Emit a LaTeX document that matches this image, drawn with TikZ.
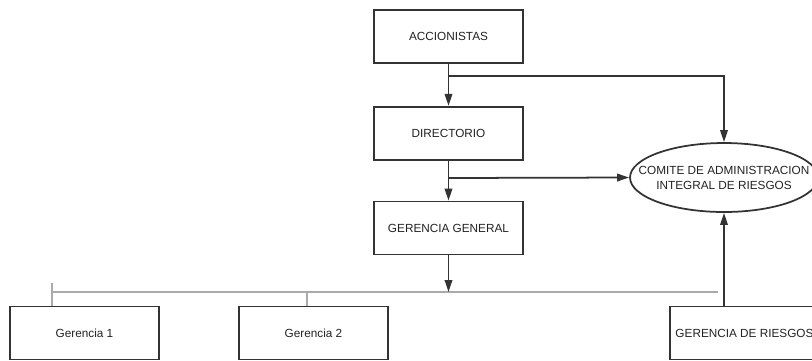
\documentclass[tikz,border=0pt]{standalone}
\usepackage{fontspec}
\setmainfont{Liberation Sans}
\usetikzlibrary{arrows.meta,positioning,shapes.geometric}
\definecolor{linegray}{HTML}{333333}
\definecolor{busgray}{HTML}{AAAAAA}
\definecolor{textgray}{HTML}{222222}

\begin{document}
\begin{tikzpicture}[
  x=0.02cm, y=-0.02cm,
  box/.style={draw=linegray, line width=1pt, minimum width=2.98cm, minimum height=1.06cm, inner sep=0pt, font=\fontsize{6.7}{8.5}\selectfont, text=textgray},
  arrow/.style={-{Triangle[length=2.4mm, width=1.5mm]}, line width=1pt, linegray},
  bus/.style={busgray, line width=1pt}
]
  \useasboundingbox (0,0) rectangle (812,360);

  % Main chain
  \node[box] (acc) at (448.5,36.5) {ACCIONISTAS};
  \node[box, below=0.84cm of acc] (dir) {DIRECTORIO};
  \node[box, below=0.8cm of dir] (gg) {GERENCIA GENERAL};

  % Committee
  \node[draw=linegray, ellipse, line width=1pt, minimum width=3.76cm, minimum height=1.38cm, inner sep=0pt] (comite) at (724,177.5) {};
  \node[font=\fontsize{6.7}{8.5}\selectfont, text=textgray, align=center] (comitetxt) at (comite.center) {COMITE DE ADMINISTRACION\\INTEGRAL DE RIESGOS};

  % Bottom row
  \node[box] (g1) at (84.5,333) {Gerencia 1};
  \node[box] (g2) at (313.5,333) {Gerencia 2};
  \node[box] (riesgos) at (744.5,333) {GERENCIA DE RIESGOS};

  % Connectors
  \coordinate (accbr) at (448.5,76);
  \coordinate (dirbr) at (448.5,178);
  \draw[arrow] (acc) -- (dir);
  \draw[arrow] (accbr) -| (comite.north);
  \draw[arrow] (dir) -- (gg);
  \draw[arrow] (dirbr) -- (comite.west);
  \draw[arrow] (riesgos.north -| comite.south) -- (comite.south);

  % Bus
  \coordinate (busL) at (52,292);
  \coordinate (busR) at (718,292);
  \coordinate (tick1) at (52,283);
  \coordinate (tick2) at (307,292);
  \draw[bus] (busL) -- (busR);
  \draw[bus] (tick1) -- (tick1 |- g1.north);
  \draw[bus] (tick2) -- (tick2 |- g2.north);
  \draw[arrow] (gg) -- (gg.south |- busR);
\end{tikzpicture}
\end{document}
